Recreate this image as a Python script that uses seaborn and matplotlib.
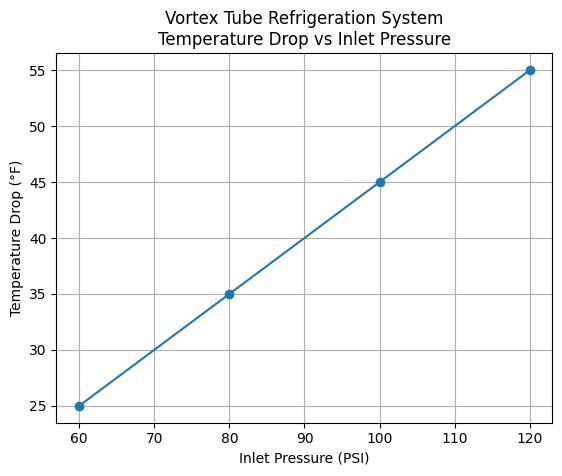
import matplotlib
matplotlib.use("Agg")
import matplotlib.pyplot as plt
import seaborn as sns
import pandas as pd

#data
pressure = [60, 80, 100, 120]
temp_drop = [25, 35, 45, 55]

df = pd.DataFrame({'Inlet Pressure (PSI)': pressure, 'Temperature Drop (°F)': temp_drop})

fig, ax = plt.subplots(figsize=(5.62, 4.76), dpi=100)
sns.lineplot(data=df, x='Inlet Pressure (PSI)', y='Temperature Drop (°F)', marker='o',
             markersize=7, markeredgewidth=0, color='#1f77b4', linewidth=1.5, ax=ax)
ax.set_title('Vortex Tube Refrigeration System\nTemperature Drop vs Inlet Pressure')
ax.grid(True)
fig.subplots_adjust(left=0.1005, right=0.983, top=0.888, bottom=0.112)
fig.savefig('out.png', dpi=100)
